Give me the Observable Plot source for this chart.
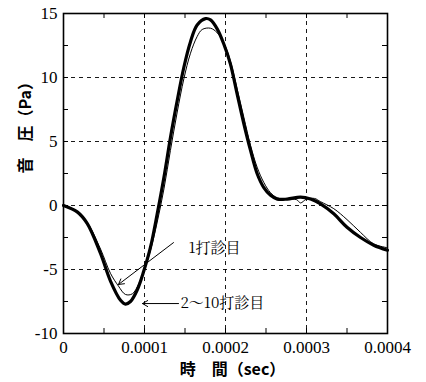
<!DOCTYPE html>
<html><head><meta charset="utf-8">
<script src="https://cdn.jsdelivr.net/npm/d3@7"></script>
<script src="https://cdn.jsdelivr.net/npm/@observablehq/plot@0.6"></script>
<style>body{margin:0;background:#fff}</style>
</head><body><div id="chart"></div>
<script>
// 2〜10打診目 (thick)
const timeThick = [0, 0.0000169, 0.0000292, 0.0000457, 0.000058, 0.0000704, 0.0000765, 0.0000827, 0.000091, 0.0000992, 0.0001074, 0.0001157, 0.000124, 0.000132, 0.0001404, 0.0001486, 0.0001568, 0.000165, 0.0001753, 0.0001815, 0.0001897, 0.000198, 0.000206, 0.0002144, 0.0002226, 0.0002309, 0.000239, 0.0002473, 0.0002556, 0.000264, 0.0002761, 0.0002926, 0.000305, 0.0003173, 0.0003337, 0.00035, 0.0003667, 0.000383, 0.0004];
const pThick = [0, -0.5, -1.4, -3.75, -5.9, -7.4, -7.7, -7.5, -6.6, -5.1, -3.26, -0.65, 2.2, 5.3, 8.2, 10.8, 12.8, 14.1, 14.6, 14.5, 13.8, 12.6, 11.07, 8.7, 6.4, 4.3, 2.5, 1.4, 0.8, 0.5, 0.5, 0.65, 0.5, 0.13, -0.65, -1.7, -2.5, -3.1, -3.5];
// 1打診目 (thin)
const timeThin = [0, 0.0000169, 0.0000292, 0.0000457, 0.000058, 0.0000679, 0.0000765, 0.000085, 0.000093, 0.0001, 0.0001074, 0.0001157, 0.000124, 0.000132, 0.0001404, 0.0001486, 0.0001568, 0.000165, 0.0001712, 0.0001815, 0.0001897, 0.000198, 0.000206, 0.0002144, 0.0002226, 0.0002309, 0.000239, 0.0002473, 0.0002556, 0.000264, 0.0002761, 0.000288, 0.0002926, 0.0003, 0.00031, 0.0003173, 0.0003337, 0.00035, 0.0003667, 0.000383, 0.0004];
const pThin = [0, -0.45, -1.3, -3.4, -5.3, -6.3, -6.95, -6.9, -6.1, -5.0, -3.5, -1.3, 1.3, 4.3, 7.3, 9.9, 11.9, 13.2, 13.75, 13.85, 13.5, 12.7, 11.3, 9.1, 6.9, 4.7, 3.0, 1.8, 1.0, 0.6, 0.5, 0.45, 0.2, 0.5, 0.55, 0.3, -0.25, -1.1, -2.1, -3.0, -3.3];

const xTicks = [0, 0.0001, 0.0002, 0.0003, 0.0004];
const xTickLabels = ["0", "0.0001", "0.0002", "0.0003", "0.0004"];
const xMinorTicks = [0.00005, 0.0001, 0.00015, 0.0002, 0.00025, 0.0003, 0.00035];
const yTicks = [-10, -5, 0, 5, 10, 15];
const yTickLabels = ["-10", "-5", "0", "5", "10", "15"];
const yMinorTicks = [-7.5, -5, -2.5, 0, 2.5, 5, 7.5, 10, 12.5];
const xGrid = [0.0001, 0.0002, 0.0003];
const yGrid = [-5, 0, 5, 10];

const seriesLabels = ["1打診目", "2～10打診目"];
const labelX = [0.0001543, 0.0001444];
const labelY = [-3.3, -7.66];
const arrowX1 = [0.0001358, 0.000142];
const arrowY1 = [-2.9, -7.66];
const arrowX2 = [0.0000679, 0.0000975];
const arrowY2 = [-6.17, -7.66];

const thick = timeThick.map((t, i) => ({t, p: pThick[i]}));
const thin = timeThin.map((t, i) => ({t, p: pThin[i]}));
const labels = seriesLabels.map((s, i) => ({s, x: labelX[i], y: labelY[i]}));
const arrows = arrowX1.map((x1, i) => ({x1, y1: arrowY1[i], x2: arrowX2[i], y2: arrowY2[i]}));

const W = 426, H = 382, ML = 63, MR = 39, MT = 13, MB = 49;
const innerW = W - ML - MR, innerH = H - MT - MB, tickLen = 5;
const tickStyle = {stroke: "#000", strokeWidth: 1};

const chart = Plot.plot({
  width: W,
  height: H,
  marginLeft: ML,
  marginRight: MR,
  marginTop: MT,
  marginBottom: MB,
  style: {background: "#fff", color: "#000"},
  x: {domain: [0, 0.0004]},
  y: {domain: [-10, 15]},
  marks: [
    Plot.gridX(xGrid, {stroke: "#000", strokeOpacity: 1, strokeWidth: 0.9, strokeDasharray: "4,4"}),
    Plot.gridY(yGrid, {stroke: "#000", strokeOpacity: 1, strokeWidth: 0.9, strokeDasharray: "4,4"}),
    Plot.tickX(xMinorTicks, {...tickStyle, insetTop: innerH - tickLen}),
    Plot.tickX(xMinorTicks, {...tickStyle, insetBottom: innerH - tickLen}),
    Plot.tickY(yMinorTicks, {...tickStyle, insetRight: innerW - tickLen}),
    Plot.tickY(yMinorTicks, {...tickStyle, insetLeft: innerW - tickLen}),
    Plot.axisX(xTicks, {anchor: "bottom", tickSize: 0, tickPadding: 7, tickFormat: (d, i) => xTickLabels[i], label: null, fontSize: 17, fontFamily: "Liberation Serif", fill: "#000"}),
    Plot.axisY(yTicks, {anchor: "left", tickSize: 0, tickPadding: 6, tickFormat: (d, i) => yTickLabels[i], label: null, fontSize: 17, fontFamily: "Liberation Serif", fill: "#000"}),
    Plot.line(thin, {x: "t", y: "p", stroke: "#000", strokeWidth: 1, curve: "catmull-rom"}),
    Plot.line(thick, {x: "t", y: "p", stroke: "#000", strokeWidth: 3.2, curve: "catmull-rom"}),
    Plot.arrow(arrows, {x1: "x1", y1: "y1", x2: "x2", y2: "y2", stroke: "#000", strokeWidth: 1, headLength: 9}),
    Plot.text(labels, {x: "x", y: "y", text: "s", textAnchor: "start", fontSize: 15, fontFamily: "Noto Serif CJK JP", fill: "#000"}),
    Plot.text(["音　圧（Pa）"], {frameAnchor: "left", rotate: -90, dx: -38, fontSize: 16, fontWeight: "bold", fontFamily: "Noto Sans CJK JP", fill: "#000"}),
    Plot.text(["時　間（sec）"], {frameAnchor: "bottom", dx: 7, dy: 41, fontSize: 16, fontWeight: "bold", fontFamily: "Noto Sans CJK JP", fill: "#000"}),
    Plot.frame({stroke: "#000", strokeWidth: 1.6})
  ]
});
document.getElementById("chart").appendChild(chart);
</script>
</body></html>
